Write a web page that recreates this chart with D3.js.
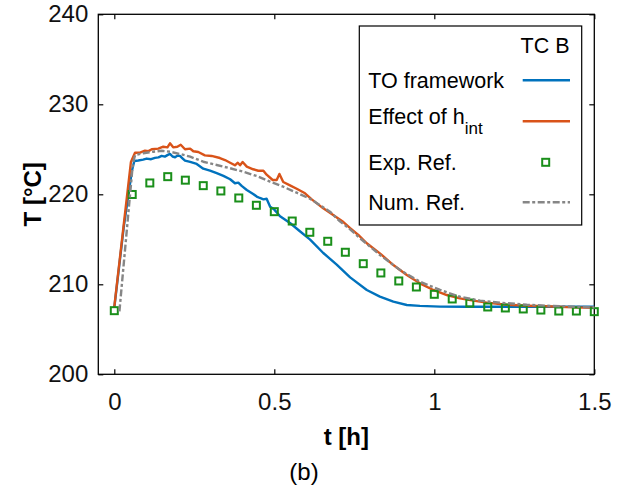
<!DOCTYPE html>
<html>
<head>
<meta charset="utf-8">
<script src="https://cdn.jsdelivr.net/npm/d3@7"></script>
<style>
  body { margin: 0; background: #fff; }
  text { font-family: "Liberation Sans", Arial, sans-serif; }
</style>
</head>
<body>
<script>
var width = 626;
var height = 492;

// Exp. Ref. (thermocouple TC B)
var tExp = [0, 0.056, 0.111, 0.167, 0.222, 0.278, 0.333, 0.389, 0.444, 0.5, 0.556, 0.611, 0.667, 0.722,
            0.778, 0.833, 0.889, 0.944, 1.0, 1.056, 1.111, 1.167, 1.222, 1.278, 1.333, 1.389, 1.444, 1.5];
var tempExp = [207.07, 219.98, 221.26, 221.96, 221.57, 220.96, 220.37, 219.59, 218.78, 218.07, 217.03, 215.78, 214.78, 213.56,
               212.29, 211.26, 210.37, 209.70, 208.89, 208.37, 207.92, 207.48, 207.37, 207.26, 207.14, 207.03, 207.03, 206.96];

// TO framework
var tTO = [0, 0.03, 0.055, 0.0625, 0.075, 0.09, 0.101, 0.115, 0.127, 0.138, 0.148, 0.158, 0.166, 0.174, 0.182, 0.19,
           0.198, 0.205, 0.213, 0.221, 0.237, 0.2575, 0.278, 0.299, 0.32, 0.341, 0.362, 0.377, 0.3875, 0.398, 0.414,
           0.434, 0.445, 0.455, 0.466, 0.476, 0.487, 0.5, 0.518, 0.549, 0.58, 0.612, 0.653, 0.695, 0.737, 0.789, 0.83,
           0.872, 0.914, 0.955, 1.018, 1.1, 1.2, 1.3, 1.4, 1.5];
var tempTO = [207.4, 216.5, 222.6, 223.7, 223.75, 223.85, 223.97, 223.9, 224.05, 224.1, 224.27, 224.19, 224.35, 224.49, 224.2, 224.12,
              224.3, 224.27, 224.0, 223.74, 223.6, 223.37, 222.85, 222.63, 222.34, 222.04, 221.67, 221.23, 221.3, 220.93, 220.48,
              220.04, 219.75, 219.59, 219.44, 219.5, 218.62, 218.3, 217.56, 216.81, 215.9, 214.97, 213.48, 212.19, 210.77, 209.37, 208.63,
              208.07, 207.7, 207.6, 207.52, 207.5, 207.5, 207.5, 207.5, 207.5];

// Effect of h_int
var tHint = [0, 0.052, 0.0647, 0.0803, 0.0959, 0.107, 0.117, 0.1375, 0.153, 0.166, 0.174, 0.184, 0.197, 0.2075, 0.221,
             0.237, 0.247, 0.2625, 0.283, 0.304, 0.33, 0.346, 0.362, 0.377, 0.386, 0.393, 0.401, 0.414, 0.434, 0.45,
             0.466, 0.476, 0.495, 0.5075, 0.516, 0.528, 0.549, 0.57, 0.596, 0.617, 0.653, 0.684, 0.716, 0.737, 0.7625,
             0.789, 0.83, 0.872, 0.914, 0.955, 0.997, 1.039, 1.08, 1.122, 1.164, 1.226, 1.289, 1.351, 1.434, 1.5];
var tempHint = [207.5, 223.6, 224.62, 224.62, 224.84, 224.8, 225.0, 225.07, 225.29, 225.22, 225.67, 225.22, 225.29, 225.51, 225.0,
                225.07, 224.78, 224.7, 224.33, 224.26, 224.03, 223.81, 223.51, 223.22, 223.51, 223.22, 223.59, 223.07, 222.78, 222.62,
                222.62, 222.18, 221.59, 221.59, 222.26, 221.37, 221.0, 220.62, 220.11, 219.44, 218.44, 217.7, 216.92, 216.25, 215.48,
                214.56, 213.44, 212.14, 211.03, 210.11, 209.37, 208.81, 208.44, 208.18, 207.96, 207.73, 207.62, 207.56, 207.44, 207.4];

// Num. Ref.
var tNum = [0.016, 0.058, 0.065, 0.0906, 0.122, 0.148, 0.174, 0.205, 0.237, 0.278, 0.32, 0.362, 0.403, 0.445, 0.487, 0.528,
            0.57, 0.612, 0.674, 0.705, 0.737, 0.768, 0.83, 0.893, 0.955, 1.018, 1.08, 1.143, 1.205, 1.289, 1.372, 1.5];
var tempNum = [207.0, 223.4, 224.37, 224.56, 224.73, 224.84, 224.73, 224.48, 224.18, 223.62, 223.26, 222.89, 222.51, 222.03, 221.4, 220.84,
               220.18, 219.5, 218.07, 217.0, 216.1, 215.11, 213.26, 211.59, 210.29, 209.37, 208.62, 208.18, 207.96, 207.73, 207.59, 207.44];

var xTicks = [0, 0.5, 1, 1.5];
var yTicks = [200, 210, 220, 230, 240];
var legendNames = ["TO framework", "Effect of h", "Exp. Ref.", "Num. Ref."];

var colTO = "#0072bd";
var colHint = "#d95319";
var colExp = "#1a8f1a";
var colNum = "#868686";

var pLeft = 98.3, pRight = 594.3, pTop = 14.3, pBottom = 374.3;

var svg = d3.select("body")
            .append("svg")
            .attr("width", width)
            .attr("height", height);

var x = d3.scaleLinear().domain([-0.05, 1.5]).range([pLeft, pRight]);
var y = d3.scaleLinear().domain([200, 240]).range([pBottom, pTop]);

//////// axes (ticks pointing inward, mirrored on top/right) ////////
svg.append("g")
    .attr("transform", "translate(0," + pBottom + ")")
    .call(d3.axisBottom(x).tickValues(xTicks).tickFormat(d3.format("~g")).tickSizeInner(-5).tickSizeOuter(0).tickPadding(19));
svg.append("g")
    .attr("transform", "translate(" + pLeft + ",0)")
    .call(d3.axisLeft(y).tickValues(yTicks).tickSizeInner(-5).tickSizeOuter(0).tickPadding(10));
svg.append("g")
    .attr("transform", "translate(0," + pTop + ")")
    .call(d3.axisTop(x).tickValues(xTicks).tickFormat("").tickSizeInner(-5).tickSizeOuter(0));
svg.append("g")
    .attr("transform", "translate(" + pRight + ",0)")
    .call(d3.axisRight(y).tickValues(yTicks).tickFormat("").tickSizeInner(-5).tickSizeOuter(0));

svg.selectAll(".domain").remove();
svg.selectAll(".tick line").attr("stroke", "#000").attr("stroke-width", 1.2);
svg.selectAll(".tick text")
   .attr("fill", "#111")
   .style("font-size", "24px")
   .style("font-family", "'Liberation Sans', Arial, sans-serif");

svg.append("rect")
   .attr("x", pLeft).attr("y", pTop)
   .attr("width", pRight - pLeft).attr("height", pBottom - pTop)
   .attr("fill", "none").attr("stroke", "#000").attr("stroke-width", 1.3);

//////// lines ////////
function drawLine(ts, temps, color, dash) {
  var pts = ts.map(function(t, i) { return [t, temps[i]]; });
  var line = d3.line()
      .x(function(d) { return x(d[0]); })
      .y(function(d) { return y(d[1]); });
  svg.append("path")
     .datum(pts)
     .attr("d", line)
     .attr("fill", "none")
     .attr("stroke", color)
     .attr("stroke-width", 2.4)
     .attr("stroke-linejoin", "round")
     .attr("stroke-dasharray", dash || null);
}

drawLine(tTO, tempTO, colTO);
drawLine(tHint, tempHint, colHint);

var sq = 7;
svg.selectAll("rect.exp")
   .data(tExp)
   .enter()
   .append("rect")
   .attr("class", "exp")
   .attr("x", function(d) { return x(d) - sq / 2; })
   .attr("y", function(d, i) { return y(tempExp[i]) - sq / 2; })
   .attr("width", sq).attr("height", sq)
   .attr("fill", "none")
   .attr("stroke", colExp)
   .attr("stroke-width", 2);

drawLine(tNum, tempNum, colNum, "7,2.5,3,2.5");

//////// axis titles ////////
svg.append("text")
   .attr("x", (pLeft + pRight) / 2).attr("y", 445)
   .attr("text-anchor", "middle")
   .style("font-size", "24px").style("font-weight", "bold")
   .text("t [h]");
svg.append("text")
   .attr("transform", "translate(41," + ((pTop + pBottom) / 2) + ") rotate(-90)")
   .attr("text-anchor", "middle")
   .style("font-size", "24px").style("font-weight", "bold")
   .text("T [°C]");
svg.append("text")
   .attr("x", 304).attr("y", 480)
   .attr("text-anchor", "middle")
   .style("font-size", "24px")
   .text("(b)");

//////// legend ////////
var lg = svg.append("g");
lg.append("rect")
  .attr("x", 359.3).attr("y", 26)
  .attr("width", 222.4).attr("height", 199)
  .attr("fill", "#fff").attr("stroke", "#000").attr("stroke-width", 1.2);
lg.append("text")
  .attr("x", 569.5).attr("y", 52.7)
  .attr("text-anchor", "end")
  .style("font-size", "21.5px")
  .text("TC B");

var rowY = [80.3, 121.3, 162.3, 202.3];
var rowText = [87.5, 128.5, 169.5, 209.5];
var textSize = "21.5px";
legendNames.forEach(function(name, i) {
  var t = lg.append("text")
    .attr("x", 368.3).attr("y", rowText[i] - (i === 1 ? 5 : 0))
    .style("font-size", textSize)
    .text(name);
  if (i === 1) {
    t.append("tspan").attr("dy", 10).style("font-size", "17px").text("int");
  }
});
lg.append("line").attr("x1", 522.7).attr("x2", 570).attr("y1", rowY[0]).attr("y2", rowY[0])
  .attr("stroke", colTO).attr("stroke-width", 2.6);
lg.append("line").attr("x1", 522.7).attr("x2", 570).attr("y1", rowY[1]).attr("y2", rowY[1])
  .attr("stroke", colHint).attr("stroke-width", 2.6);
lg.append("rect").attr("x", 545.7 - sq / 2).attr("y", rowY[2] - sq / 2).attr("width", sq).attr("height", sq)
  .attr("fill", "none").attr("stroke", colExp).attr("stroke-width", 2);
lg.append("line").attr("x1", 522.7).attr("x2", 570).attr("y1", rowY[3]).attr("y2", rowY[3])
  .attr("stroke", colNum).attr("stroke-width", 2.4).attr("stroke-dasharray", "7,2.5,3,2.5");
</script>
</body>
</html>
